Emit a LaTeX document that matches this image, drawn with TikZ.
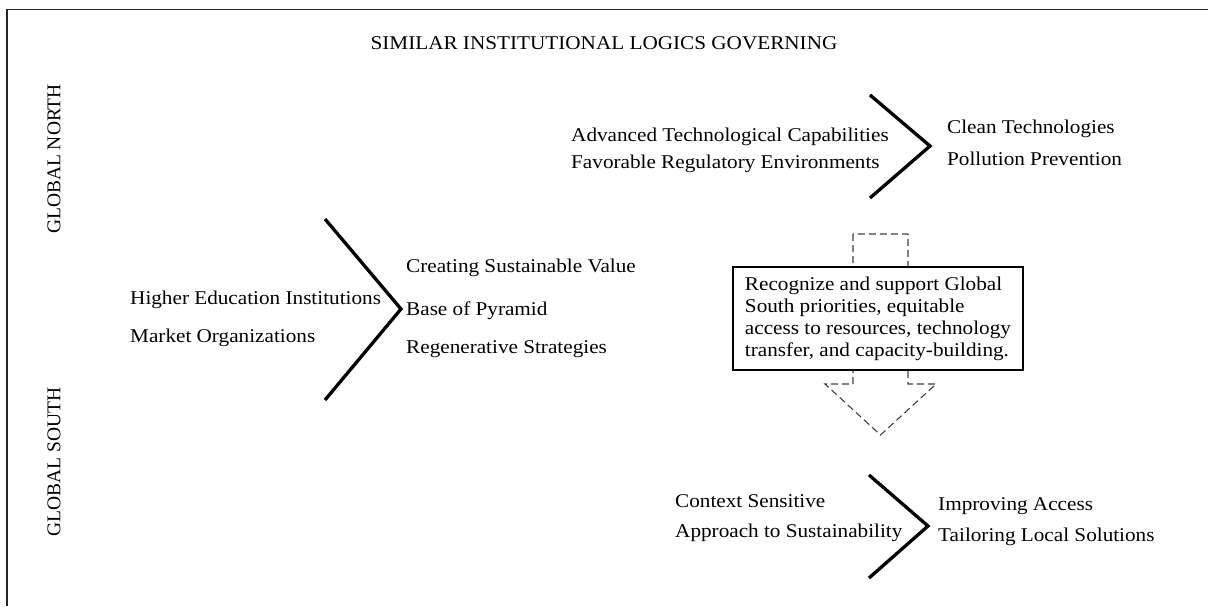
\documentclass[tikz,border=0pt]{standalone}
\usepackage{fontspec}
\setmainfont{Liberation Serif}[FakeStretch=1.087]
\newfontfamily\sidefont{Liberation Serif}
\usepackage{tikz}

\begin{document}
\begin{tikzpicture}[x=1pt, y=-1pt,
  lbl/.style={anchor=base west, inner sep=0pt, font=\fontsize{19.5}{22}\selectfont},
  side/.style={rotate=90, inner sep=0pt, font=\sidefont\fontsize{19.5}{22}\selectfont},
  chevron/.style={line width=3.3pt, line join=miter},
  note/.style={rectangle, draw=black, line width=1.1pt, fill=white, inner sep=0pt,
    minimum width=290pt, minimum height=103pt, align=left,
    font=\fontsize{19.5}{22}\selectfont},
  blockarr/.style={draw=black!75, line width=1.1pt, dash pattern=on 7pt off 4pt},
  frame/.style={line width=1.5pt, black!85},
]

\useasboundingbox (0,0) rectangle (1208,606);

% Frame
\draw[frame] (1208,9.5) -- (7,9.5) -- (7,606);

% Heading and side labels
\node[lbl, anchor=base] (title) at (604,49) {SIMILAR INSTITUTIONAL LOGICS GOVERNING};
\node[side] (north) at (54,159) {GLOBAL NORTH};
\node[side] (south) at (54,462) {GLOBAL SOUTH};

% Global North
\node[lbl] (adv) at (571,141) {Advanced Technological Capabilities};
\node[lbl] (fav) at (571,168) {Favorable Regulatory Environments};
\node[lbl] (clean) at (947,133) {Clean Technologies};
\node[lbl] (pollution) at (947,165) {Pollution Prevention};
\draw[chevron] (870,95) -- (930,146) -- (870,198);

% Shared logics
\node[lbl] (hei) at (130,304) {Higher Education Institutions};
\node[lbl] (market) at (130,342) {Market Organizations};
\node[lbl] (value) at (406,272) {Creating Sustainable Value};
\node[lbl] (bop) at (406,315) {Base of Pyramid};
\node[lbl] (regen) at (406,353) {Regenerative Strategies};
\draw[chevron] (325,219) -- (401,309) -- (325,400);

% Transfer arrow and note
\draw[blockarr] (853,234) -- (853,384) -- (825,384) -- (880.5,435)
  -- (936,384) -- (908,384) -- (908,234) -- cycle;
\node[note] (note) at (878,318.5) {Recognize and support Global\\South priorities, equitable\\access to resources, technology\\transfer, and capacity-building.};

% Global South
\node[lbl] (context) at (675,507) {Context Sensitive};
\node[lbl] (approach) at (675,537) {Approach to Sustainability};
\node[lbl] (access) at (938,510) {Improving Access};
\node[lbl] (tailor) at (938,541) {Tailoring Local Solutions};
\draw[chevron] (869,475) -- (928,526) -- (869,578);

\end{tikzpicture}
\end{document}
